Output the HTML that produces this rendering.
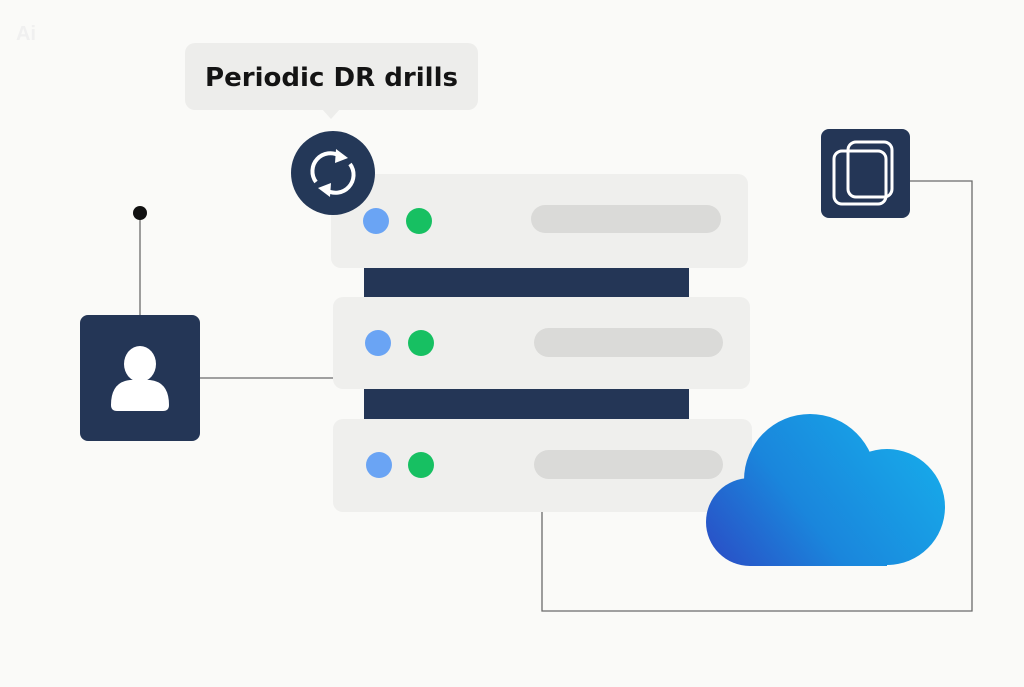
<!DOCTYPE html>
<html><head><meta charset="utf-8"><style>
html,body{margin:0;padding:0;background:#fafaf8;}
svg{display:block;}
</style></head><body>
<svg width="1024" height="687" viewBox="0 0 1024 687" xmlns="http://www.w3.org/2000/svg">
<defs>
<linearGradient id="cg" gradientUnits="userSpaceOnUse" x1="900" y1="430" x2="720" y2="570">
<stop offset="0" stop-color="#17a6e8"/>
<stop offset="0.55" stop-color="#1a86dc"/>
<stop offset="1" stop-color="#2a4fc6"/>
</linearGradient>
</defs>
<rect width="1024" height="687" fill="#fafaf8"/>
<text x="16" y="40" font-family="Liberation Sans, sans-serif" font-weight="bold" font-size="20" fill="#f0f0f0">Ai</text>
<g stroke="#6b6b6b" stroke-width="1.3" fill="none">
<line x1="140" y1="213" x2="140" y2="315"/>
<line x1="200" y1="378" x2="334" y2="378"/>
<polyline points="910,181 972,181 972,611 542,611 542,512"/>
</g>
<circle cx="140" cy="213" r="7" fill="#111"/>
<rect x="364" y="266" width="325" height="32" fill="#243656"/>
<rect x="364" y="388" width="325" height="32" fill="#243656"/>
<rect x="331" y="174" width="417" height="94" rx="10" fill="#efefed"/>
<rect x="333" y="297" width="417" height="92" rx="10" fill="#efefed"/>
<rect x="333" y="419" width="419" height="93" rx="10" fill="#efefed"/>
<circle cx="376" cy="221" r="13" fill="#6aa4f4"/><circle cx="419" cy="221" r="13" fill="#17c062"/>
<rect x="531" y="205" width="190" height="28" rx="14" fill="#dadad8"/>
<circle cx="378" cy="343" r="13" fill="#6aa4f4"/><circle cx="421" cy="343" r="13" fill="#17c062"/>
<rect x="534" y="328" width="189" height="29" rx="14.5" fill="#dadad8"/>
<circle cx="379" cy="465" r="13" fill="#6aa4f4"/><circle cx="421" cy="465" r="13" fill="#17c062"/>
<rect x="534" y="450" width="189" height="29" rx="14.5" fill="#dadad8"/>
<rect x="185" y="43" width="293" height="67" rx="10" fill="#ededeb"/>
<polygon points="322,109 340,109 331,119" fill="#ededeb"/>
<text x="205" y="86" font-family="DejaVu Sans, Liberation Sans, sans-serif" font-weight="bold" font-size="26" textLength="253" lengthAdjust="spacingAndGlyphs" fill="#141414">Periodic DR drills</text>
<circle cx="333" cy="173" r="42" fill="#243858"/>
<g stroke="#fff" stroke-width="4" fill="none">
<path d="M 316 182 A 18 18 0 0 1 340 156"/>
<path d="M 350 164 A 18 18 0 0 1 326 190"/>
</g>
<polygon points="336,149 348,158 335,163" fill="#fff"/>
<polygon points="330,197 318,188 331,183" fill="#fff"/>
<rect x="80" y="315" width="120" height="126" rx="8" fill="#243656"/>
<ellipse cx="140" cy="364" rx="16" ry="18" fill="#fff"/>
<path d="M 111 405 Q 111 382 130 380 L 150 380 Q 169 382 169 405 Q 169 411 163 411 L 117 411 Q 111 411 111 405 Z" fill="#fff"/>
<rect x="821" y="129" width="89" height="89" rx="8" fill="#243656"/>
<rect x="834" y="151" width="52" height="53" rx="8" fill="none" stroke="#fff" stroke-width="3"/>
<rect x="848" y="142" width="44" height="55" rx="8" fill="none" stroke="#fff" stroke-width="3"/>
<g fill="url(#cg)">
<circle cx="750" cy="522" r="44"/>
<circle cx="810" cy="480" r="66"/>
<circle cx="887" cy="507" r="58"/>
<rect x="750" y="500" width="137" height="66"/>
</g>
</svg>
</body></html>
